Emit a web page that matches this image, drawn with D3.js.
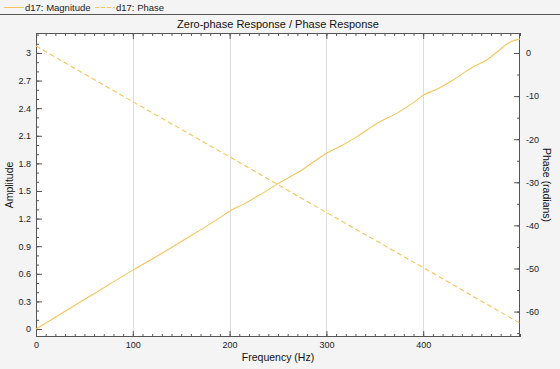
<!DOCTYPE html>
<html>
<head>
<meta charset="utf-8">
<script src="https://cdn.jsdelivr.net/npm/d3@7"></script>
<style>
  html, body { margin: 0; padding: 0; background: #f4f4f4; }
  svg { display: block; font-family: "Liberation Sans", Arial, sans-serif; }
</style>
</head>
<body>
<svg id="chart" width="560" height="369"></svg>
<script>
/* data */
const magFreq  = [0, 25, 50, 75, 100, 125, 150, 175, 190, 200, 215, 230, 250, 275, 290, 300, 315, 330, 350, 375, 390, 400, 415, 430, 450, 465, 475, 490, 500];
const magValue = [0, 0.16, 0.32, 0.48, 0.64, 0.79, 0.95, 1.11, 1.21, 1.28, 1.36, 1.45, 1.58, 1.73, 1.84, 1.91, 1.99, 2.08, 2.22, 2.36, 2.46, 2.54, 2.61, 2.70, 2.84, 2.92, 3.00, 3.12, 3.15];
const phaseFreq  = [0, 100, 200, 300, 400, 500];
const phaseValue = [1.6, -11.3, -24.1, -37.0, -49.8, -62.7];

const xTicks     = [0, 100, 200, 300, 400];
const ampTicks   = [0, 0.3, 0.6, 0.9, 1.2, 1.5, 1.8, 2.1, 2.4, 2.7, 3];
const phaseTicks = [0, -10, -20, -30, -40, -50, -60];

const W = 560, H = 369;
const M = { left: 36, right: 520, top: 33, bottom: 337 };
const LINE = "#f5c558";
const svg = d3.select("#chart");

const x  = d3.scaleLinear().domain([0, 500]).range([M.left, M.right]);
const yA = d3.scaleLinear().domain([-0.087, 3.217]).range([M.bottom, M.top]);
const yP = d3.scaleLinear().domain([-65.9, 4.64]).range([M.bottom, M.top]);

/* ── legend strip ── */
const leg = svg.append("g");
leg.append("line").attr("x1", 4).attr("x2", 24).attr("y1", 7.5).attr("y2", 7.5)
  .attr("stroke", LINE).attr("stroke-width", 1);
leg.append("text").attr("x", 25).attr("y", 10.5).attr("font-size", 9.5).attr("fill", "#222").text("d17: Magnitude");
leg.append("line").attr("x1", 95).attr("x2", 115).attr("y1", 7.5).attr("y2", 7.5)
  .attr("stroke", LINE).attr("stroke-width", 1).attr("stroke-dasharray", "4,2");
leg.append("text").attr("x", 116).attr("y", 10.5).attr("font-size", 9.5).attr("fill", "#222").text("d17: Phase");
svg.append("line").attr("x1", 0).attr("x2", W).attr("y1", 14.5).attr("y2", 14.5)
  .attr("stroke", "#555").attr("stroke-width", 1);

/* ── title ── */
svg.append("text").attr("x", (M.left + M.right) / 2).attr("y", 27.5)
  .attr("text-anchor", "middle").attr("font-size", 11).attr("fill", "#111")
  .text("Zero-phase Response / Phase Response");

/* ── plot bg + grid ── */
svg.append("rect").attr("x", M.left).attr("y", M.top)
  .attr("width", M.right - M.left).attr("height", M.bottom - M.top).attr("fill", "#fff");
svg.append("g").selectAll("line").data(xTicks.filter(d => d > 0)).join("line")
  .attr("x1", d => Math.round(x(d)) + 0.5).attr("x2", d => Math.round(x(d)) + 0.5)
  .attr("y1", M.top).attr("y2", M.bottom)
  .attr("stroke", "#dcdcdc").attr("stroke-width", 1);

/* ── axes (ticks point inward) ── */
function styleAxis(g) {
  g.select(".domain").remove();
  g.selectAll(".tick line").attr("stroke", "#555");
  g.selectAll(".tick text").attr("fill", "#222").attr("font-size", 9);
}
const minorX = d3.range(0, 501, 10);
const minorA = d3.range(0, 33).map(i => i / 10);
const minorP = d3.range(0, -66, -5);
const minus = s => String(s).replace("−", "-");

// bottom
svg.append("g").attr("transform", `translate(0,${M.bottom})`)
  .call(d3.axisBottom(x).tickValues(minorX).tickSize(-3).tickFormat(""))
  .call(styleAxis);
svg.append("g").attr("transform", `translate(0,${M.bottom})`)
  .call(d3.axisBottom(x).tickValues(xTicks).tickSize(-6).tickPadding(5).tickFormat(d3.format("d")))
  .call(styleAxis);
// top
svg.append("g").attr("transform", `translate(0,${M.top})`)
  .call(d3.axisTop(x).tickValues(minorX).tickSize(-3).tickFormat(""))
  .call(styleAxis);
svg.append("g").attr("transform", `translate(0,${M.top})`)
  .call(d3.axisTop(x).tickValues(xTicks).tickSize(-6).tickFormat(""))
  .call(styleAxis);
// left
svg.append("g").attr("transform", `translate(${M.left},0)`)
  .call(d3.axisLeft(yA).tickValues(minorA).tickSize(-3).tickFormat(""))
  .call(styleAxis);
svg.append("g").attr("transform", `translate(${M.left},0)`)
  .call(d3.axisLeft(yA).tickValues(ampTicks).tickSize(-6).tickPadding(5).tickFormat(d => String(d)))
  .call(styleAxis);
// right
svg.append("g").attr("transform", `translate(${M.right},0)`)
  .call(d3.axisRight(yP).tickValues(minorP).tickSize(-3).tickFormat(""))
  .call(styleAxis);
svg.append("g").attr("transform", `translate(${M.right},0)`)
  .call(d3.axisRight(yP).tickValues(phaseTicks).tickSize(-6).tickPadding(6).tickFormat(d => minus(d)))
  .call(styleAxis);

/* ── frame ── */
svg.append("rect").attr("x", M.left + 0.5).attr("y", M.top + 0.5)
  .attr("width", M.right - M.left - 1).attr("height", M.bottom - M.top - 1)
  .attr("fill", "none").attr("stroke", "#555").attr("stroke-width", 1);

/* ── series ── */
const clip = svg.append("defs").append("clipPath").attr("id", "plot-clip");
clip.append("rect").attr("x", M.left).attr("y", M.top)
  .attr("width", M.right - M.left).attr("height", M.bottom - M.top);
const gLines = svg.append("g").attr("clip-path", "url(#plot-clip)");

gLines.append("path")
  .datum(magFreq.map((f, i) => [f, magValue[i]]))
  .attr("fill", "none").attr("stroke", LINE).attr("stroke-width", 1.1)
  .attr("d", d3.line().x(d => x(d[0])).y(d => yA(d[1])).curve(d3.curveMonotoneX));

gLines.append("path")
  .datum(phaseFreq.map((f, i) => [f, phaseValue[i]]))
  .attr("fill", "none").attr("stroke", LINE).attr("stroke-width", 1.1)
  .attr("stroke-dasharray", "5,3")
  .attr("d", d3.line().x(d => x(d[0])).y(d => yP(d[1])));

/* ── axis titles ── */
svg.append("text").attr("transform", `translate(13,${(M.top + M.bottom) / 2}) rotate(-90)`)
  .attr("text-anchor", "middle").attr("font-size", 10.5).attr("fill", "#111").text("Amplitude");
svg.append("text").attr("transform", `translate(543,${(M.top + M.bottom) / 2}) rotate(90)`)
  .attr("text-anchor", "middle").attr("font-size", 10.5).attr("fill", "#111").text("Phase (radians)");
svg.append("text").attr("x", (M.left + M.right) / 2).attr("y", 361)
  .attr("text-anchor", "middle").attr("font-size", 10.5).attr("fill", "#111").text("Frequency (Hz)");
</script>
</body>
</html>
